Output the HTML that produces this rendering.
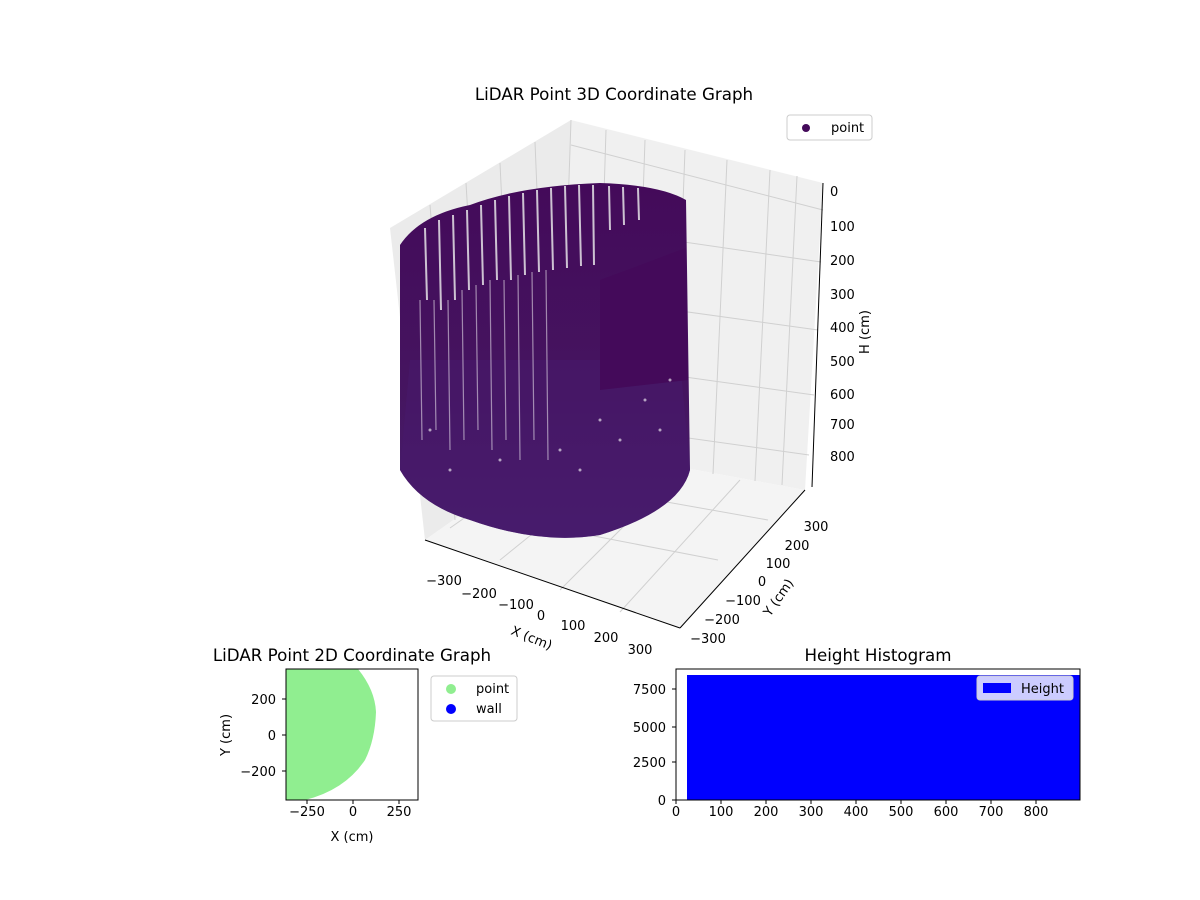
<!DOCTYPE html>
<html><head><meta charset="utf-8"><style>
body{margin:0;background:#fff}
svg{display:block;font-family:"DejaVu Sans","Liberation Sans",sans-serif}
</style></head><body>
<svg width="1200" height="900" viewBox="0 0 1200 900">
<defs>
<linearGradient id="cyl" x1="0" y1="0" x2="0" y2="1">
<stop offset="0" stop-color="#440a5a"/><stop offset="0.6" stop-color="#451560"/><stop offset="1" stop-color="#472070"/>
</linearGradient>
</defs>
<text x="614" y="100" font-size="16.7" text-anchor="middle">LiDAR Point 3D Coordinate Graph</text>
<polygon points="571,120 390,228 425,540 560,445" fill="#ebebeb"/>
<polygon points="571,120 823,183 805,490 560,445" fill="#f0f0f0"/>
<polygon points="425,540 560,445 805,490 680,628" fill="#f4f4f4"/>
<g stroke="#d0d0d0" stroke-width="1" fill="none">
<line x1="571" y1="120" x2="560" y2="445"/>
<path d="M606,130 L596,452 M645,140 L634,459 M685,150 L673,466 M727,160 L713,474 M770,170 L755,481 M797,176 L782,485"/>
<path d="M571,145 L823,210 M567,225 L821,262 M565,295 L818,330 M563,360 L814,395 M561,420 L809,455"/>
<path d="M535,142 L548,460 M500,163 L515,480 M466,183 L485,500 M430,205 L455,520"/>
<path d="M470,512 L718,560 M520,476 L768,520 M450,528 L590,430 M500,560 L630,455 M560,590 L680,470 M620,612 L740,480"/>
</g>
<path d="M400,245 Q420,215 470,205 Q520,186 600,183 Q660,185 686,200 L690,470 Q680,510 600,535 Q540,545 470,520 Q420,505 400,470 Z" fill="url(#cyl)"/>
<path d="M410,360 L680,360 L690,470 Q680,510 600,535 Q540,545 470,520 Q420,505 400,470 Z" fill="#47196a" opacity="0.6"/>
<g stroke="#f0f0f0" stroke-width="2" opacity="0.8">
<path d="M425,228 L427,300 M439,220 L441,310 M453,215 L455,300 M467,210 L469,290 M481,205 L483,285 M495,200 L497,280 M509,196 L511,280 M523,193 L525,275 M537,190 L539,272 M551,188 L553,270 M565,186 L567,268 M579,185 L581,266 M593,185 L594,265 M609,186 L610,230 M623,187 L624,225 M638,188 L639,220"/>
</g>
<g stroke="#ffffff" stroke-width="1.2" opacity="0.5">
<path d="M420,300 L422,440 M434,300 L436,430 M448,300 L450,450 M462,290 L464,440 M476,285 L478,430 M490,280 L492,450 M504,280 L506,440 M518,275 L520,460 M532,272 L534,440 M546,270 L548,460"/>
</g>
<path d="M600,280 L686,248 L688,380 L600,390 Z" fill="#440a5a"/>
<g fill="#fff" opacity="0.6">
<circle cx="600" cy="420" r="1.5"/><circle cx="620" cy="440" r="1.5"/><circle cx="645" cy="400" r="1.5"/><circle cx="660" cy="430" r="1.5"/><circle cx="500" cy="460" r="1.5"/><circle cx="450" cy="470" r="1.5"/><circle cx="430" cy="430" r="1.5"/><circle cx="560" cy="450" r="1.5"/><circle cx="670" cy="380" r="1.5"/><circle cx="580" cy="470" r="1.5"/>
</g>
<g stroke="#000" stroke-width="1">
<line x1="823" y1="183" x2="812" y2="487"/>
<line x1="425" y1="540" x2="680" y2="628"/>
<line x1="680" y1="628" x2="805" y2="490"/>
</g>
<g font-size="13" fill="#000">
<text x="830" y="196">0</text><text x="830" y="231">100</text><text x="830" y="265">200</text><text x="830" y="299">300</text><text x="830" y="332">400</text><text x="830" y="366">500</text><text x="830" y="399">600</text><text x="830" y="429">700</text><text x="830" y="461">800</text>
<text x="444" y="585" text-anchor="middle">−300</text><text x="479" y="598" text-anchor="middle">−200</text><text x="516" y="609" text-anchor="middle">−100</text><text x="541" y="620" text-anchor="middle">0</text><text x="573" y="630" text-anchor="middle">100</text><text x="606" y="642" text-anchor="middle">200</text><text x="640" y="654" text-anchor="middle">300</text>
<text x="816" y="531" text-anchor="middle">300</text><text x="797" y="550" text-anchor="middle">200</text><text x="778" y="568" text-anchor="middle">100</text><text x="762" y="586" text-anchor="middle">0</text><text x="743" y="605" text-anchor="middle">−100</text><text x="722" y="624" text-anchor="middle">−200</text><text x="708" y="643" text-anchor="middle">−300</text>
<text transform="translate(530,642) rotate(22)" text-anchor="middle">X (cm)</text>
<text transform="translate(782,600) rotate(-55)" text-anchor="middle">Y (cm)</text>
<text transform="translate(869,332) rotate(-90)" text-anchor="middle">H (cm)</text>
</g>
<rect x="787" y="115" width="85" height="25" rx="3" fill="#fff" stroke="#ccc"/>
<circle cx="806" cy="128" r="4" fill="#440a5a"/>
<text x="831" y="132" font-size="13">point</text>
<text x="352" y="661" font-size="16.7" text-anchor="middle">LiDAR Point 2D Coordinate Graph</text>
<path d="M286,669 L358,669 Q375,690 376,712 Q375,740 365,760 Q345,790 305,800 L286,800 Z" fill="#90ee90"/>
<rect x="286" y="669" width="132" height="131" fill="none" stroke="#000"/>
<g font-size="13">
<text x="307" y="816" text-anchor="middle">−250</text><text x="353" y="816" text-anchor="middle">0</text><text x="399" y="816" text-anchor="middle">250</text>
<text x="276" y="704" text-anchor="end">200</text><text x="276" y="740" text-anchor="end">0</text><text x="276" y="776" text-anchor="end">−200</text>
<text x="352" y="841" text-anchor="middle">X (cm)</text>
<text transform="translate(230,735) rotate(-90)" text-anchor="middle">Y (cm)</text>
</g>
<g stroke="#000"><line x1="307" y1="800" x2="307" y2="804"/><line x1="353" y1="800" x2="353" y2="804"/><line x1="399" y1="800" x2="399" y2="804"/><line x1="282" y1="699" x2="286" y2="699"/><line x1="282" y1="735" x2="286" y2="735"/><line x1="282" y1="771" x2="286" y2="771"/></g>
<rect x="431" y="676" width="86" height="45" rx="3" fill="#fff" stroke="#ccc"/>
<circle cx="451" cy="689" r="5" fill="#90ee90"/><circle cx="451" cy="709" r="5" fill="#0000ff"/>
<text x="476" y="693" font-size="13">point</text><text x="476" y="713" font-size="13">wall</text>
<text x="878" y="661" font-size="16.7" text-anchor="middle">Height Histogram</text>
<rect x="687" y="675" width="393" height="125" fill="#0000ff"/>
<rect x="676" y="669" width="404" height="131" fill="none" stroke="#000"/>
<rect x="977" y="676" width="96" height="24" rx="3" fill="#fff" fill-opacity="0.8" stroke="#ccc"/>
<rect x="983" y="683" width="28" height="10" fill="#0000ff"/>
<text x="1021" y="693" font-size="13">Height</text>
<g font-size="13" text-anchor="middle">
<text x="676" y="816">0</text><text x="721" y="816">100</text><text x="766" y="816">200</text><text x="811" y="816">300</text><text x="856" y="816">400</text><text x="901" y="816">500</text><text x="946" y="816">600</text><text x="991" y="816">700</text><text x="1036" y="816">800</text>
</g>
<g font-size="13" text-anchor="end">
<text x="666" y="805">0</text><text x="666" y="767">2500</text><text x="666" y="732">5000</text><text x="666" y="694">7500</text>
</g>
<g stroke="#000"><line x1="676" y1="800" x2="676" y2="804"/><line x1="721" y1="800" x2="721" y2="804"/><line x1="766" y1="800" x2="766" y2="804"/><line x1="811" y1="800" x2="811" y2="804"/><line x1="856" y1="800" x2="856" y2="804"/><line x1="901" y1="800" x2="901" y2="804"/><line x1="946" y1="800" x2="946" y2="804"/><line x1="991" y1="800" x2="991" y2="804"/><line x1="1036" y1="800" x2="1036" y2="804"/>
<line x1="672" y1="800" x2="676" y2="800"/><line x1="672" y1="762" x2="676" y2="762"/><line x1="672" y1="727" x2="676" y2="727"/><line x1="672" y1="689" x2="676" y2="689"/></g>
</svg>
</body></html>
